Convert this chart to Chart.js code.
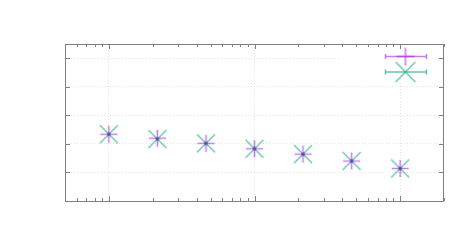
<!DOCTYPE html>
<html>
<head>
<meta charset="utf-8">
<script src="https://cdn.jsdelivr.net/npm/chart.js@4/dist/chart.umd.min.js"></script>
<style>
  html, body { margin: 0; padding: 0; background: #fff; }
  #wrap { width: 472px; height: 250px; }
</style>
</head>
<body>
<div id="wrap"><canvas id="plot"></canvas></div>
<script>
// data (log x axis, no tick labels shown)
const xValues = [1, 2.154, 4.642, 10, 21.54, 46.42, 100];
const purpleY = [2.34, 2.20, 2.02, 1.83, 1.64, 1.40, 1.14];
const greenY  = [2.34, 2.17, 2.02, 1.83, 1.64, 1.40, 1.14];
const xMajor = [1, 10, 100];
const yMajor = [1, 2, 3, 4, 5];

const PURPLE = 'rgba(148,0,211,0.5)';
const GREEN = 'rgba(0,158,115,0.6)';
const FRAME = '#808080';

function plusImg(size, color) {
    let c = document.createElement('canvas');
    c.width = size + 2; c.height = size + 2;
    let g = c.getContext('2d');
    let m = (size + 2) / 2;
    g.strokeStyle = color; g.lineWidth = 1.6;
    g.beginPath();
    g.moveTo(1, m); g.lineTo(size + 1, m);
    g.moveTo(m, 1); g.lineTo(m, size + 1);
    g.stroke();
    return c;
}

function crossImg(size, color, dot) {
    let c = document.createElement('canvas');
    c.width = size + 2; c.height = size + 2;
    let g = c.getContext('2d');
    let m = (size + 2) / 2, h = size / 2 * 0.9;
    g.strokeStyle = color; g.lineWidth = 1.4;
    g.beginPath();
    g.moveTo(m - h, m - h); g.lineTo(m + h, m + h);
    g.moveTo(m - h, m + h); g.lineTo(m + h, m - h);
    g.stroke();
    if (dot) {
        g.fillStyle = 'rgba(30,110,130,0.85)';
        g.fillRect(m - 1.5, m - 1.5, 3, 3);
    }
    return c;
}

const frameAndKey = {
    id: 'frameAndKey',
    afterDraw(chart) {
        const ctx = chart.ctx, a = chart.chartArea;
        const xs = chart.scales.x, ys = chart.scales.y;
        ctx.save();
        // key box (opaque, hides grid behind it)
        ctx.fillStyle = '#fff';
        ctx.fillRect(339, a.top + 1, a.right - 340, 36);
        // key samples
        const kx1 = 385.5, kx2 = 426.5, kxm = 405.5;
        [[56.5, PURPLE], [72, GREEN]].forEach(([ky, col]) => {
            ctx.strokeStyle = col; ctx.lineWidth = 1.6;
            ctx.beginPath();
            ctx.moveTo(kx1, ky); ctx.lineTo(kx2, ky);
            ctx.moveTo(kx1, ky - 2.5); ctx.lineTo(kx1, ky + 2.5);
            ctx.moveTo(kx2, ky - 2.5); ctx.lineTo(kx2, ky + 2.5);
            ctx.stroke();
        });
        let p = plusImg(18, PURPLE), q = crossImg(22, GREEN, false);
        ctx.drawImage(p, kxm - p.width / 2, 56.5 - p.height / 2);
        ctx.drawImage(q, kxm - q.width / 2, 72 - q.height / 2);

        // frame
        ctx.strokeStyle = FRAME; ctx.lineWidth = 1;
        ctx.strokeRect(Math.round(a.left) + 0.5, Math.round(a.top) + 0.5,
            Math.round(a.right - a.left) - 1, Math.round(a.bottom - a.top));
        ctx.beginPath();
        // x ticks (inward, mirrored)
        for (let d = 0.1; d <= 100; d *= 10) {
            for (let k = 1; k <= 9; k++) {
                let v = d * k;
                if (v < xs.min || v > xs.max) continue;
                let px = Math.round(xs.getPixelForValue(v)) + 0.5;
                let len = k == 1 ? 5 : 3;
                ctx.moveTo(px, a.bottom); ctx.lineTo(px, a.bottom - len);
                ctx.moveTo(px, a.top); ctx.lineTo(px, a.top + len);
            }
        }
        // y ticks
        yMajor.forEach(v => {
            let py = Math.round(ys.getPixelForValue(v)) + 0.5;
            ctx.moveTo(a.left, py); ctx.lineTo(a.left + 5, py);
            ctx.moveTo(a.right, py); ctx.lineTo(a.right - 5, py);
        });
        ctx.stroke();
        ctx.restore();
    }
};

let ctx = document.getElementById('plot');
window.plot = new Chart(ctx, {
    type: 'scatter',
    data: {
        datasets: [{
            data: xValues.map((x, i) => ({x: x, y: purpleY[i]})),
            pointStyle: plusImg(17, PURPLE),
            pointRadius: 9,
            pointHoverRadius: 9,
        }, {
            data: xValues.map((x, i) => ({x: x, y: greenY[i]})),
            pointStyle: crossImg(20, GREEN, true),
            pointRadius: 10,
            pointHoverRadius: 10,
        }]
    },
    options: {
        responsive: true,
        maintainAspectRatio: false,
        animation: false,
        layout: { padding: { left: 65, right: 28, top: 44, bottom: 49 } },
        plugins: {
            legend: { display: false },
            tooltip: { enabled: false },
        },
        scales: {
            x: {
                type: 'logarithmic',
                min: 0.5,
                max: 200,
                afterBuildTicks: s => { s.ticks = xMajor.map(v => ({value: v})); },
                ticks: { display: false },
                grid: { color: '#e2e2e2', drawTicks: false, lineWidth: 1 },
                border: { display: false, dash: [1, 2] },
            },
            y: {
                min: 0,
                max: 5.5,
                afterBuildTicks: s => { s.ticks = yMajor.map(v => ({value: v})); },
                ticks: { display: false },
                grid: { color: '#e2e2e2', drawTicks: false, lineWidth: 1 },
                border: { display: false, dash: [1, 2] },
            }
        }
    },
    plugins: [frameAndKey]
});
</script>
</body>
</html>
